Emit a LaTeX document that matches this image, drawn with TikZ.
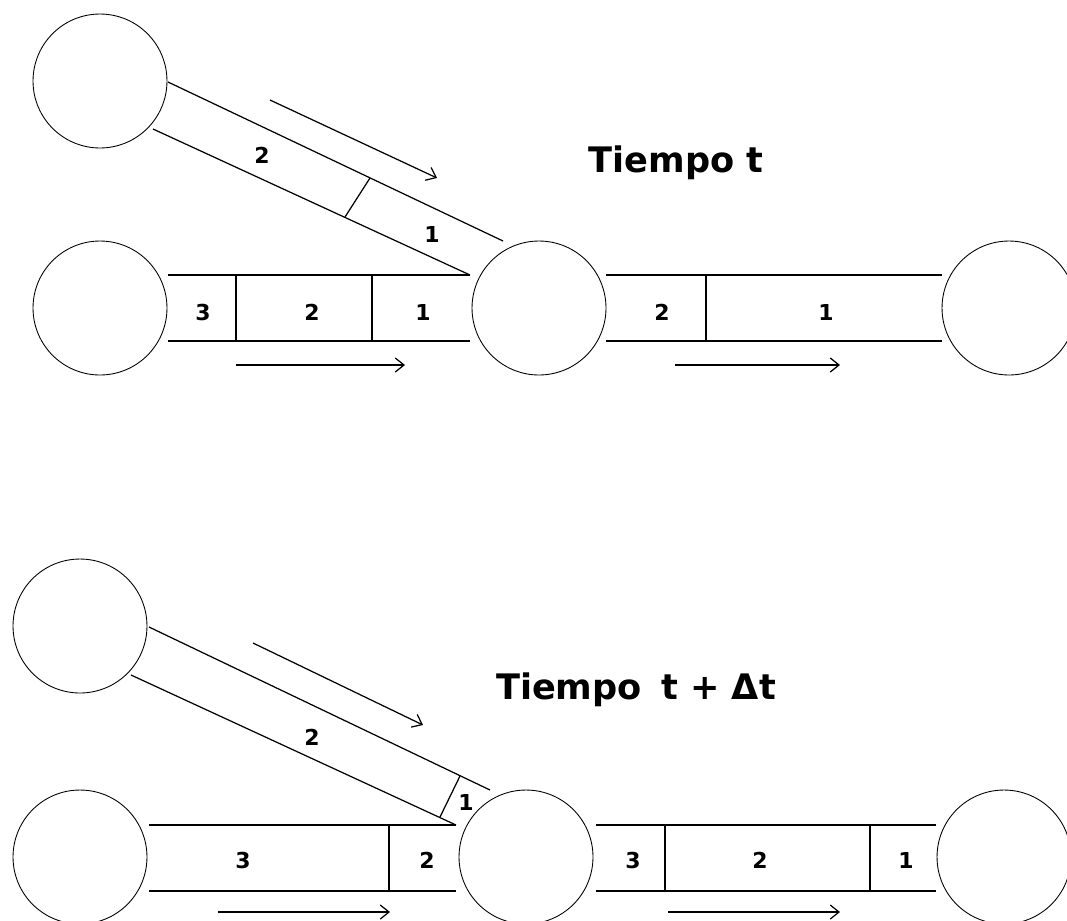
\documentclass[tikz,border=0pt]{standalone}
\usepackage{fontspec}
\setmainfont{DejaVu Sans}
\usetikzlibrary{arrows.meta,positioning}

\begin{document}
\begin{tikzpicture}[x=0.02cm, y=-0.02cm, line width=0.7pt,
    >={Straight Barb[length=5pt,width=8pt]},
    tank/.style={circle, draw, line width=0.5pt, minimum size=2.68cm, inner sep=0pt},
    num/.style={font=\bfseries\fontsize{12.5}{12.5}\selectfont, inner sep=0pt},
    heading/.style={font=\bfseries\fontsize{20}{20}\selectfont, inner sep=0pt}]
    \clip (0,0) rectangle (1067,920);

    % Tiempo t
    \node (tankA) [tank] at (100,81) {};
    \node (tankB) [tank] at (100,308) {};
    \node (tankC) [tank] at (539,308) {};
    \node (tankD) [tank] at (1009,308) {};
    \node (titleA) [heading] at (676,163) {Tiempo t};

    \draw (168,275) -- (470,275) (168,341) -- (470,341);
    \draw (236,275) -- (236,341) (372,275) -- (372,341);
    \draw (606,275) -- (942,275) (606,341) -- (942,341);
    \draw (706,275) -- (706,341);
    \draw (168,82) -- (503,241) (153,129) -- (470,275);
    \draw (370,178) -- (345,217);

    \node (a3) [num] at (203,312) {3};
    \node (a2) [num] at (312,312) {2};
    \node (a1) [num] at (423,312) {1};
    \node (b2) [num] at (662,312) {2};
    \node (b1) [num] at (826,312) {1};
    \node (c2) [num] at (262,155) {2};
    \node (c1) [num] at (432,234) {1};

    \coordinate (flowAs) at (270,100);  \coordinate (flowAe) at (437,178);
    \coordinate (flowBs) at (236,365);  \coordinate (flowBe) at (405,365);
    \coordinate (flowCs) at (675,365);  \coordinate (flowCe) at (840,365);
    \draw[->] (flowAs) -- (flowAe);
    \draw[->] (flowBs) -- (flowBe);
    \draw[->] (flowCs) -- (flowCe);

    % Tiempo t + dt
    \node (tankE) [tank] at (80,626) {};
    \node (tankF) [tank] at (80,857) {};
    \node (tankG) [tank] at (526,857) {};
    \node (tankH) [tank] at (1004,857) {};
    \node (titleB) [heading] at (636,690) {Tiempo\hspace{0.2em} t + Δt};

    \draw (149,825) -- (456,825) (149,891) -- (456,891);
    \draw (389,825) -- (389,891);
    \draw (596,825) -- (936,825) (596,891) -- (936,891);
    \draw (665,825) -- (665,891) (870,825) -- (870,891);
    \draw (149,627) -- (490,790) (131,675) -- (456,825);
    \draw (460,776) -- (440,817);

    \node (d3) [num] at (243,860) {3};
    \node (d2) [num] at (427,860) {2};
    \node (e3) [num] at (633,860) {3};
    \node (e2) [num] at (760,860) {2};
    \node (e1) [num] at (906,860) {1};
    \node (f2) [num] at (312,737) {2};
    \node (f1) [num] at (466,802) {1};

    \coordinate (flowDs) at (253,643);  \coordinate (flowDe) at (423,725);
    \coordinate (flowEs) at (218,912);  \coordinate (flowEe) at (390,912);
    \coordinate (flowFs) at (668,912);  \coordinate (flowFe) at (840,912);
    \draw[->] (flowDs) -- (flowDe);
    \draw[->] (flowEs) -- (flowEe);
    \draw[->] (flowFs) -- (flowFe);
\end{tikzpicture}
\end{document}
